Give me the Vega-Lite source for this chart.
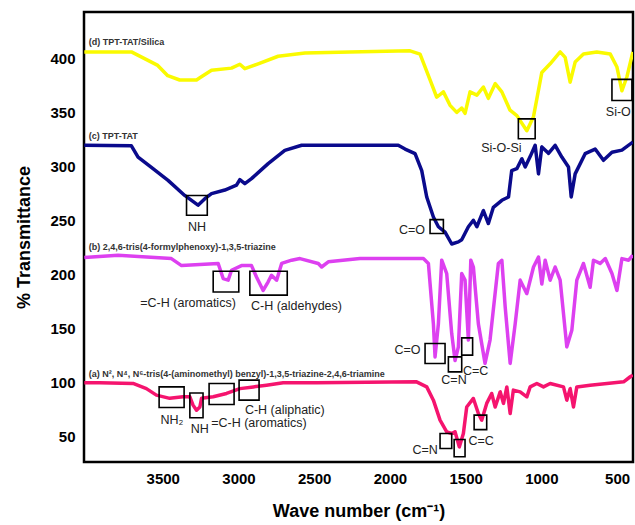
{
  "$schema": "https://vega.github.io/schema/vega-lite/v6.json",
  "width": 549,
  "height": 450,
  "autosize": "none",
  "padding": {"left": 84, "top": 12, "right": 2, "bottom": 63},
  "background": "white",
  "config": {
    "view": {"stroke": "black", "strokeWidth": 2.5},
    "font": "Liberation Sans"
  },
  "datasets": {
    "spectra": [
      {"s":"d","wn":4018,"t":406},{"s":"d","wn":3707,"t":406},{"s":"d","wn":3533,"t":393.5},{"s":"d","wn":3467,"t":384},{"s":"d","wn":3388,"t":380},{"s":"d","wn":3277,"t":380},{"s":"d","wn":3255,"t":382},{"s":"d","wn":3178,"t":389},{"s":"d","wn":3046,"t":391},{"s":"d","wn":2991,"t":394.6},{"s":"d","wn":2958,"t":390.5},{"s":"d","wn":2870,"t":395},{"s":"d","wn":2738,"t":402},{"s":"d","wn":2561,"t":405},{"s":"d","wn":2264,"t":406},{"s":"d","wn":1867,"t":407},{"s":"d","wn":1801,"t":404},{"s":"d","wn":1735,"t":380},{"s":"d","wn":1691,"t":364},{"s":"d","wn":1647,"t":369},{"s":"d","wn":1603,"t":356.5},{"s":"d","wn":1559,"t":350},{"s":"d","wn":1526,"t":354},{"s":"d","wn":1504,"t":349},{"s":"d","wn":1471,"t":369},{"s":"d","wn":1426,"t":366},{"s":"d","wn":1383,"t":373.5},{"s":"d","wn":1350,"t":363},{"s":"d","wn":1305,"t":376.6},{"s":"d","wn":1261,"t":369},{"s":"d","wn":1207,"t":352},{"s":"d","wn":1162,"t":347},{"s":"d","wn":1096,"t":333},{"s":"d","wn":1052,"t":346},{"s":"d","wn":997,"t":387},{"s":"d","wn":942,"t":395},{"s":"d","wn":876,"t":406},{"s":"d","wn":843,"t":401},{"s":"d","wn":810,"t":378},{"s":"d","wn":777,"t":396.6},{"s":"d","wn":722,"t":404},{"s":"d","wn":634,"t":406},{"s":"d","wn":545,"t":404},{"s":"d","wn":501,"t":392},{"s":"d","wn":468,"t":370},{"s":"d","wn":435,"t":383},{"s":"d","wn":396,"t":406},
      {"s":"c","wn":4018,"t":319.5},{"s":"c","wn":3707,"t":319},{"s":"c","wn":3663,"t":308.6},{"s":"c","wn":3575,"t":299},{"s":"c","wn":3465,"t":287},{"s":"c","wn":3355,"t":273},{"s":"c","wn":3267,"t":264},{"s":"c","wn":3222,"t":270},{"s":"c","wn":3178,"t":274.7},{"s":"c","wn":3090,"t":278},{"s":"c","wn":3013,"t":282.5},{"s":"c","wn":2991,"t":287.6},{"s":"c","wn":2958,"t":284},{"s":"c","wn":2914,"t":288.6},{"s":"c","wn":2804,"t":302.5},{"s":"c","wn":2694,"t":314.8},{"s":"c","wn":2583,"t":319.5},{"s":"c","wn":2231,"t":319.5},{"s":"c","wn":1945,"t":319.5},{"s":"c","wn":1900,"t":316},{"s":"c","wn":1834,"t":311.7},{"s":"c","wn":1790,"t":296},{"s":"c","wn":1757,"t":271.6},{"s":"c","wn":1713,"t":253},{"s":"c","wn":1680,"t":244},{"s":"c","wn":1636,"t":239},{"s":"c","wn":1592,"t":228},{"s":"c","wn":1548,"t":230},{"s":"c","wn":1526,"t":232},{"s":"c","wn":1482,"t":244},{"s":"c","wn":1449,"t":250},{"s":"c","wn":1426,"t":244},{"s":"c","wn":1383,"t":259},{"s":"c","wn":1350,"t":247},{"s":"c","wn":1317,"t":262},{"s":"c","wn":1261,"t":268.5},{"s":"c","wn":1217,"t":271.6},{"s":"c","wn":1196,"t":296},{"s":"c","wn":1162,"t":297.8},{"s":"c","wn":1129,"t":307},{"s":"c","wn":1107,"t":299.4},{"s":"c","wn":1074,"t":309},{"s":"c","wn":1041,"t":319.5},{"s":"c","wn":1019,"t":293},{"s":"c","wn":997,"t":318},{"s":"c","wn":953,"t":312},{"s":"c","wn":909,"t":319.5},{"s":"c","wn":865,"t":308.6},{"s":"c","wn":821,"t":299.4},{"s":"c","wn":803,"t":271.6},{"s":"c","wn":777,"t":293},{"s":"c","wn":711,"t":311.7},{"s":"c","wn":645,"t":316},{"s":"c","wn":590,"t":305.6},{"s":"c","wn":534,"t":313},{"s":"c","wn":468,"t":315},{"s":"c","wn":396,"t":322.5},
      {"s":"b","wn":4018,"t":215.5},{"s":"b","wn":3795,"t":217.6},{"s":"b","wn":3443,"t":214.5},{"s":"b","wn":3376,"t":208},{"s":"b","wn":3134,"t":210},{"s":"b","wn":3101,"t":196},{"s":"b","wn":3068,"t":194.5},{"s":"b","wn":3046,"t":203.7},{"s":"b","wn":2980,"t":208},{"s":"b","wn":2914,"t":208},{"s":"b","wn":2881,"t":197.5},{"s":"b","wn":2837,"t":185},{"s":"b","wn":2804,"t":193},{"s":"b","wn":2782,"t":199},{"s":"b","wn":2748,"t":194.5},{"s":"b","wn":2715,"t":210},{"s":"b","wn":2649,"t":213},{"s":"b","wn":2594,"t":214.5},{"s":"b","wn":2473,"t":210},{"s":"b","wn":2451,"t":206.7},{"s":"b","wn":2407,"t":211.5},{"s":"b","wn":2198,"t":214.5},{"s":"b","wn":1779,"t":214.5},{"s":"b","wn":1746,"t":210},{"s":"b","wn":1713,"t":154},{"s":"b","wn":1702,"t":123.4},{"s":"b","wn":1680,"t":154},{"s":"b","wn":1658,"t":213},{"s":"b","wn":1625,"t":200.6},{"s":"b","wn":1592,"t":145},{"s":"b","wn":1570,"t":120},{"s":"b","wn":1548,"t":132.7},{"s":"b","wn":1526,"t":200.6},{"s":"b","wn":1504,"t":194.5},{"s":"b","wn":1482,"t":139},{"s":"b","wn":1466,"t":213},{"s":"b","wn":1449,"t":206.7},{"s":"b","wn":1416,"t":154},{"s":"b","wn":1372,"t":117.4},{"s":"b","wn":1339,"t":139},{"s":"b","wn":1284,"t":210},{"s":"b","wn":1261,"t":213},{"s":"b","wn":1239,"t":169.7},{"s":"b","wn":1206,"t":117.4},{"s":"b","wn":1173,"t":154},{"s":"b","wn":1140,"t":194.5},{"s":"b","wn":1096,"t":182},{"s":"b","wn":1052,"t":206.7},{"s":"b","wn":1019,"t":216},{"s":"b","wn":997,"t":191},{"s":"b","wn":975,"t":213},{"s":"b","wn":942,"t":194.5},{"s":"b","wn":909,"t":206.7},{"s":"b","wn":876,"t":194.5},{"s":"b","wn":832,"t":132.7},{"s":"b","wn":799,"t":148},{"s":"b","wn":766,"t":194.5},{"s":"b","wn":722,"t":210},{"s":"b","wn":678,"t":188},{"s":"b","wn":656,"t":213},{"s":"b","wn":612,"t":210},{"s":"b","wn":578,"t":214.5},{"s":"b","wn":534,"t":200.6},{"s":"b","wn":501,"t":185},{"s":"b","wn":468,"t":214.5},{"s":"b","wn":424,"t":213},{"s":"b","wn":396,"t":217.6},
      {"s":"a","wn":4018,"t":99.4},{"s":"a","wn":3917,"t":99.4},{"s":"a","wn":3696,"t":98.8},{"s":"a","wn":3608,"t":94},{"s":"a","wn":3542,"t":88},{"s":"a","wn":3454,"t":85},{"s":"a","wn":3366,"t":86.4},{"s":"a","wn":3321,"t":86.4},{"s":"a","wn":3300,"t":78.7},{"s":"a","wn":3277,"t":74},{"s":"a","wn":3255,"t":77},{"s":"a","wn":3244,"t":85},{"s":"a","wn":3167,"t":86.4},{"s":"a","wn":3079,"t":89.5},{"s":"a","wn":2991,"t":94},{"s":"a","wn":2902,"t":95.6},{"s":"a","wn":2815,"t":97.2},{"s":"a","wn":2705,"t":99.4},{"s":"a","wn":2485,"t":99.4},{"s":"a","wn":1824,"t":100.3},{"s":"a","wn":1757,"t":95.6},{"s":"a","wn":1713,"t":83.3},{"s":"a","wn":1669,"t":64.8},{"s":"a","wn":1625,"t":54},{"s":"a","wn":1592,"t":52.4},{"s":"a","wn":1570,"t":54},{"s":"a","wn":1542,"t":40},{"s":"a","wn":1515,"t":52.4},{"s":"a","wn":1493,"t":77},{"s":"a","wn":1449,"t":84.9},{"s":"a","wn":1416,"t":71},{"s":"a","wn":1394,"t":64.8},{"s":"a","wn":1361,"t":80.3},{"s":"a","wn":1328,"t":89.5},{"s":"a","wn":1305,"t":77},{"s":"a","wn":1272,"t":91},{"s":"a","wn":1250,"t":80.3},{"s":"a","wn":1228,"t":95.6},{"s":"a","wn":1206,"t":71},{"s":"a","wn":1185,"t":92.6},{"s":"a","wn":1140,"t":91},{"s":"a","wn":1096,"t":86.4},{"s":"a","wn":1074,"t":95.6},{"s":"a","wn":1030,"t":98.8},{"s":"a","wn":986,"t":95.6},{"s":"a","wn":942,"t":98.8},{"s":"a","wn":854,"t":95.6},{"s":"a","wn":832,"t":83.3},{"s":"a","wn":810,"t":94},{"s":"a","wn":788,"t":77},{"s":"a","wn":766,"t":95.6},{"s":"a","wn":678,"t":97.2},{"s":"a","wn":567,"t":98.8},{"s":"a","wn":457,"t":100.3},{"s":"a","wn":413,"t":105},{"s":"a","wn":396,"t":106.5}
    ],
    "boxes": [
      {"x1":1152,"x2":1041,"y1":325.5,"y2":344},
      {"x1":534,"x2":402,"y1":361,"y2":380.6},
      {"x1":3343,"x2":3206,"y1":254.6,"y2":273},
      {"x1":1735,"x2":1647,"y1":237.7,"y2":250.6},
      {"x1":3167,"x2":2998,"y1":183.6,"y2":202.8},
      {"x1":2925,"x2":2678,"y1":180.6,"y2":202.8},
      {"x1":1768,"x2":1636,"y1":117.3,"y2":135.8},
      {"x1":1614,"x2":1526,"y1":109.5,"y2":123.4},
      {"x1":1526,"x2":1454,"y1":125,"y2":141},
      {"x1":3524,"x2":3359,"y1":76.5,"y2":95.6},
      {"x1":3321,"x2":3234,"y1":67,"y2":90},
      {"x1":3194,"x2":3029,"y1":79.3,"y2":98.8},
      {"x1":2996,"x2":2864,"y1":83.3,"y2":101.9},
      {"x1":1669,"x2":1592,"y1":38.5,"y2":52.4},
      {"x1":1576,"x2":1504,"y1":30.8,"y2":46.9},
      {"x1":1444,"x2":1361,"y1":56,"y2":69.4}
    ],
    "notes": [
      {"wn":1264,"t":316.7,"label":"Si-O-Si"},
      {"wn":492,"t":350.5,"label":"Si-O"},
      {"wn":3274,"t":243.5,"label":"NH"},
      {"wn":1854,"t":240.8,"label":"C=O"},
      {"wn":3333,"t":173.4,"label":"=C-H (aromatics)"},
      {"wn":2617,"t":170.4,"label":"C-H (aldehydes)"},
      {"wn":1884,"t":129.6,"label":"C=O"},
      {"wn":1577,"t":101.9,"label":"C=N"},
      {"wn":1434,"t":110.2,"label":"C=C"},
      {"wn":3440,"t":64.8,"label":"NH₂"},
      {"wn":3255,"t":56.2,"label":"NH"},
      {"wn":2865,"t":62.3,"label":"=C-H (aromatics)"},
      {"wn":2694,"t":74,"label":"C-H (aliphatic)"},
      {"wn":1768,"t":37,"label":"C=N"},
      {"wn":1398,"t":45.4,"label":"C=C"}
    ],
    "titles": [
      {"wn":3989,"t":414.8,"label":"(d) TPT-TAT/Silica"},
      {"wn":3989,"t":327.8,"label":"(c) TPT-TAT"},
      {"wn":3989,"t":225,"label":"(b) 2,4,6-tris(4-formylphenoxy)-1,3,5-triazine"},
      {"wn":3989,"t":107.4,"label":"(a) N², N⁴, N⁶-tris(4-(aminomethyl) benzyl)-1,3,5-triazine-2,4,6-triamine"}
    ]
  },
  "layer": [
    {
      "data": {"name": "spectra"},
      "mark": {"type": "line", "strokeWidth": 3.5, "strokeJoin": "round", "clip": true},
      "encoding": {
        "x": {
          "field": "wn", "type": "quantitative",
          "scale": {"domain": [395, 4020], "reverse": true, "nice": false, "zero": false},
          "axis": {
            "values": [500, 1000, 1500, 2000, 2500, 3000, 3500],
            "format": "d",
            "title": "Wave number (cm⁻¹)",
            "domain": false, "ticks": false, "grid": false,
            "labelFontSize": 15, "labelFontWeight": "bold", "labelColor": "black",
            "labelPadding": 9, "labelFlush": false,
            "titleFontSize": 18, "titleFontWeight": "bold", "titleColor": "black",
            "titlePadding": 16
          }
        },
        "y": {
          "field": "t", "type": "quantitative",
          "scale": {"domain": [26, 443], "nice": false, "zero": false},
          "axis": {
            "values": [50, 100, 150, 200, 250, 300, 350, 400],
            "title": "% Transmittance",
            "domain": false, "ticks": false, "grid": false,
            "labelFontSize": 15, "labelFontWeight": "bold", "labelColor": "black",
            "labelPadding": 9, "labelFlush": false,
            "titleFontSize": 18, "titleFontWeight": "bold", "titleColor": "black",
            "titlePadding": 16
          }
        },
        "color": {
          "field": "s", "type": "nominal",
          "scale": {"domain": ["a", "b", "c", "d"], "range": ["#F5146E", "#DD40F0", "#0A0A8C", "#FAFA00"]},
          "legend": null
        },
        "order": {"field": "wn", "type": "quantitative"}
      }
    },
    {
      "data": {"name": "boxes"},
      "mark": {"type": "rect", "fill": null, "fillOpacity": 0, "stroke": "black", "strokeWidth": 1.6},
      "encoding": {
        "x": {"field": "x1", "type": "quantitative"},
        "x2": {"field": "x2"},
        "y": {"field": "y1", "type": "quantitative"},
        "y2": {"field": "y2"}
      }
    },
    {
      "data": {"name": "notes"},
      "mark": {"type": "text", "fontSize": 12.5, "color": "#222", "align": "center", "baseline": "middle"},
      "encoding": {
        "x": {"field": "wn", "type": "quantitative"},
        "y": {"field": "t", "type": "quantitative"},
        "text": {"field": "label"}
      }
    },
    {
      "data": {"name": "titles"},
      "mark": {"type": "text", "fontSize": 9, "fontWeight": "bold", "color": "#333", "align": "left", "baseline": "middle"},
      "encoding": {
        "x": {"field": "wn", "type": "quantitative"},
        "y": {"field": "t", "type": "quantitative"},
        "text": {"field": "label"}
      }
    }
  ]
}
